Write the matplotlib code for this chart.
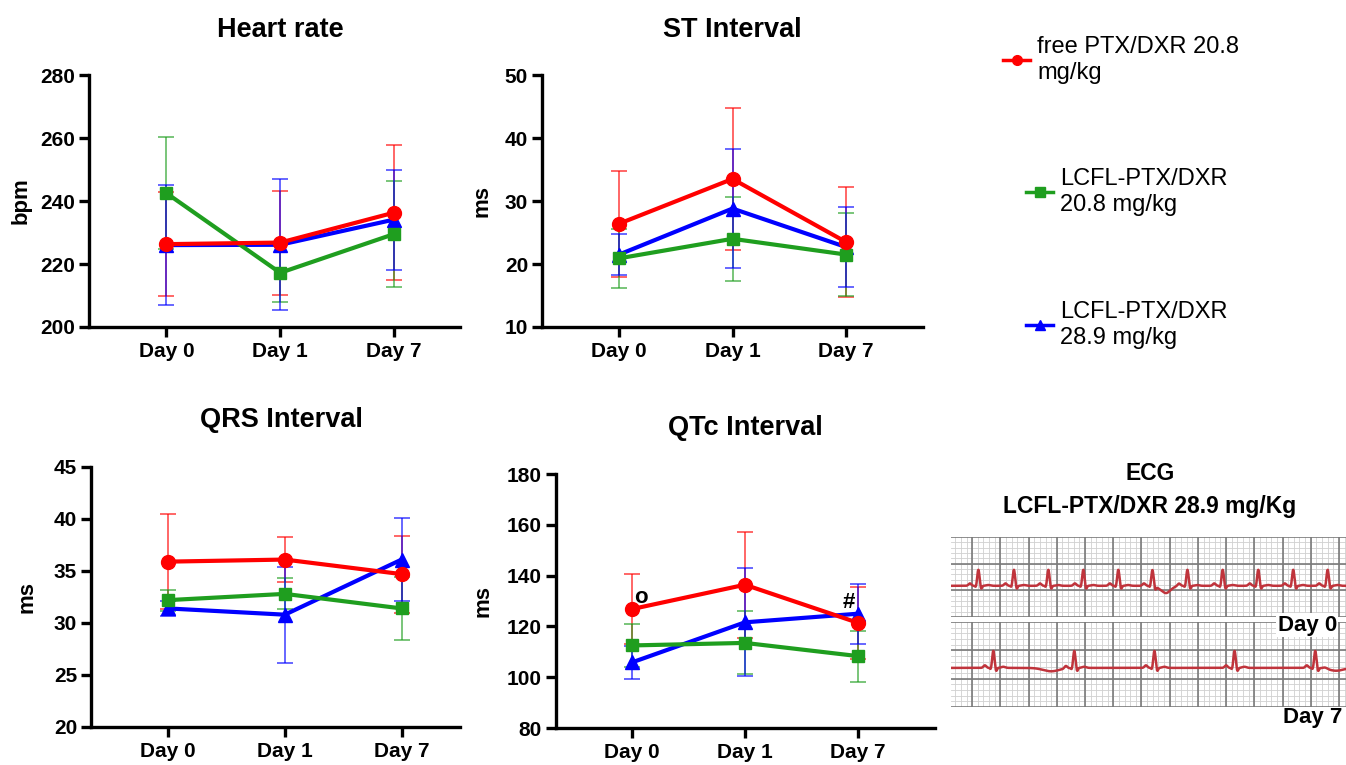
import numpy as np
import matplotlib
matplotlib.use("Agg")
import matplotlib.pyplot as plt
from matplotlib.lines import Line2D
from matplotlib.ticker import MultipleLocator

plt.rcParams['font.family'] = ['Liberation Sans', 'DejaVu Sans']

# ---------------- data ----------------
days = ['Day 0', 'Day 1', 'Day 7']
series_names = ['free PTX/DXR 20.8\nmg/kg', 'LCFL-PTX/DXR\n20.8 mg/kg', 'LCFL-PTX/DXR\n28.9 mg/kg']

hr_free = [226.3, 226.8, 236.3]
hr_free_err = [16.5, 16.5, 21.5]
hr_l208 = [242.5, 217.2, 229.5]
hr_l208_err = [17.8, 9.2, 16.8]
hr_l289 = [226.0, 226.1, 234.1]
hr_l289_err = [19.0, 20.8, 15.9]

st_free = [26.4, 33.5, 23.5]
st_free_err = [8.4, 11.3, 8.8]
st_l208 = [20.9, 24.0, 21.5]
st_l208_err = [4.7, 6.7, 6.6]
st_l289 = [21.5, 28.8, 22.7]
st_l289_err = [3.3, 9.5, 6.3]

qrs_free = [35.9, 36.1, 34.7]
qrs_free_err = [4.6, 2.2, 3.7]
qrs_l208 = [32.2, 32.8, 31.4]
qrs_l208_err = [1.0, 1.5, 3.0]
qrs_l289 = [31.4, 30.8, 36.1]
qrs_l289_err = [0.7, 4.6, 4.0]

qtc_free = [126.8, 136.4, 121.4]
qtc_free_err = [13.7, 20.8, 14.2]
qtc_l208 = [112.5, 113.5, 108.3]
qtc_l208_err = [8.6, 12.4, 10.0]
qtc_l289 = [105.8, 121.6, 125.0]
qtc_l289_err = [6.6, 21.3, 11.8]

# ECG illustration: R-peak positions (in grid boxes) for each strip
ecg_day0_beats = [0.22, 1.48, 2.70, 3.94, 5.18, 6.39, 7.63, 8.88, 10.14, 11.38, 12.60]
ecg_day7_beats = [0.75, 3.62, 6.46, 9.30, 12.16]

colors = ['#ff0000', '#1f9e1f', '#0000ff']
markers = ['o', 's', '^']
msizes = [10, 9, 9.5]

# ---------------- figure ----------------
fig = plt.figure(figsize=(13.46, 7.65), dpi=100)
W, H = 1346, 765

def px_axes(l, t, r, b):
    return fig.add_axes([l / W, 1 - b / H, (r - l) / W, (b - t) / H])

panels = [
    dict(box=(89, 75, 460, 327), title='Heart rate', ylabel='bpm', ylim=(200, 280), step=20,
         xlim=(-0.68, 2.58), data=[(hr_free, hr_free_err), (hr_l208, hr_l208_err), (hr_l289, hr_l289_err)],
         title_pos=(0.515, 1.18), ylab_x=-0.155),
    dict(box=(542, 75, 923, 327), title='ST Interval', ylabel='ms', ylim=(10, 50), step=10,
         xlim=(-0.68, 2.68), data=[(st_free, st_free_err), (st_l208, st_l208_err), (st_l289, st_l289_err)],
         title_pos=(0.499, 1.18), ylab_x=-0.129),
    dict(box=(91, 467, 460, 727), title='QRS Interval', ylabel='ms', ylim=(20, 45), step=5,
         xlim=(-0.66, 2.5), data=[(qrs_free, qrs_free_err), (qrs_l208, qrs_l208_err), (qrs_l289, qrs_l289_err)],
         title_pos=(0.515, 1.18), ylab_x=-0.144),
    dict(box=(556, 474, 935, 728), title='QTc Interval', ylabel='ms', ylim=(80, 180), step=20,
         xlim=(-0.67, 2.68), data=[(qtc_free, qtc_free_err), (qtc_l208, qtc_l208_err), (qtc_l289, qtc_l289_err)],
         title_pos=(0.499, 1.18), ylab_x=-0.166),
]

x = np.arange(len(days))
axes = []
for p in panels:
    ax = px_axes(*p['box'])
    axes.append(ax)
    # draw order: green, blue, red (red on top)
    for i in [1, 2, 0]:
        vals, err = p['data'][i]
        ax.errorbar(x, vals, yerr=err, fmt='none', ecolor=colors[i], alpha=0.6,
                    elinewidth=1.4, capsize=6, capthick=1.4, zorder=2 + i * 0.1)
        ax.plot(x, vals, color=colors[i], marker=markers[i], markersize=msizes[i],
                linewidth=3.0, zorder=3 + (2 - i) * 0.1 if i else 4)
    ax.set_xlim(*p['xlim'])
    ax.set_ylim(*p['ylim'])
    ax.yaxis.set_major_locator(MultipleLocator(p['step']))
    ax.set_xticks(x)
    ax.set_xticklabels(days)
    for s in ['top', 'right']:
        ax.spines[s].set_visible(False)
    for s in ['left', 'bottom']:
        ax.spines[s].set_linewidth(2.4)
    ax.tick_params(axis='both', width=2.4, length=7, labelsize=15, pad=3)
    ax.tick_params(axis='x', pad=4)
    for lab in ax.get_xticklabels() + ax.get_yticklabels():
        lab.set_fontweight('bold')
    ax.set_ylabel(p['ylabel'], fontsize=16, fontweight='bold')
    ax.yaxis.set_label_coords(p['ylab_x'], 0.5)
    ax.text(p['title_pos'][0], p['title_pos'][1], p['title'], transform=ax.transAxes,
            ha='center', va='center', fontsize=19.5, fontweight='bold')

# significance marks on QTc
axq = axes[3]
axq.text(0.08, 131.5, 'o', fontsize=16, fontweight='bold', ha='center', va='center')
axq.text(1.92, 129.5, '#', fontsize=16, fontweight='bold', ha='center', va='center')

# ---------------- legend ----------------
leg_specs = [(1003, 60), (1026, 192), (1026, 325)]
for i, (lx, ly) in enumerate(leg_specs):
    h = Line2D([], [], color=colors[i], marker=markers[i], markersize=7, linewidth=2.5)
    fig.legend([h], [series_names[i]], loc='center left', bbox_to_anchor=(lx / W, 1 - ly / H),
               frameon=False, fontsize=17, handlelength=1.15, handletextpad=0.3,
               borderpad=0, borderaxespad=0, labelspacing=0)

# ---------------- ECG illustration ----------------
fig.text(1150 / W, 1 - 473 / H, 'ECG', ha='center', va='center', fontsize=16.5, fontweight='bold')
fig.text(1150 / W, 1 - 506 / H, 'LCFL-PTX/DXR 28.9 mg/Kg', ha='center', va='center',
         fontsize=16.5, fontweight='bold')

def beat_wave(t, beats, amp_r, p_amp, t_amp):
    y = np.zeros_like(t)
    for b in beats:
        y += p_amp * np.exp(-((t - (b - 0.3)) / 0.07) ** 2)
        y += -0.06 * np.exp(-((t - (b - 0.09)) / 0.035) ** 2)
        y += amp_r * np.exp(-((t - b) / 0.055) ** 2)
        y += -0.12 * np.exp(-((t - (b + 0.1)) / 0.04) ** 2)
        y += t_amp * np.exp(-((t - (b + 0.35)) / 0.1) ** 2)
    return y

def ecg_strip(top, bottom):
    a = px_axes(951, top, 1346, bottom)
    a.set_xlim(-0.75, 13.25)
    a.set_ylim(0, 3)
    for v in np.arange(-0.6, 13.3, 0.2):
        a.axvline(v, color='#d0d0d0', lw=0.6, zorder=0)
    for v in np.arange(0.2, 3.0, 0.2):
        a.axhline(v, color='#d0d0d0', lw=0.6, zorder=0)
    for v in range(0, 14):
        a.axvline(v, color='#7a7a7a', lw=1.2, zorder=1)
    for v in range(0, 4):
        a.axhline(v, color='#7a7a7a', lw=1.2, zorder=1)
    a.axis('off')
    return a

t = np.linspace(-0.75, 13.25, 3000)
a1 = ecg_strip(537, 617)
y0 = 1.17 + beat_wave(t, ecg_day0_beats, 0.6, 0.09, 0.03) - 0.28 * np.exp(-((t - 6.85) / 0.25) ** 2)
a1.plot(t, y0, color='#c0343c', lw=1.8, zorder=3)

a2 = ecg_strip(622, 707)
y7 = 1.38 + beat_wave(t, ecg_day7_beats, 0.6, 0.09, 0.04) - 0.12 * np.exp(-((t - 2.8) / 0.4) ** 2) \
     - 0.1 * np.exp(-((t - 12.9) / 0.35) ** 2)
a2.plot(t, y7, color='#c0343c', lw=1.8, zorder=3)

fig.text(1337 / W, 1 - 625 / H, 'Day 0', ha='right', va='center', fontsize=16, fontweight='bold',
         bbox=dict(facecolor='white', edgecolor='none', pad=1))
fig.text(1342 / W, 1 - 718 / H, 'Day 7', ha='right', va='center', fontsize=16, fontweight='bold')

fig.savefig('out.png', dpi=100)
